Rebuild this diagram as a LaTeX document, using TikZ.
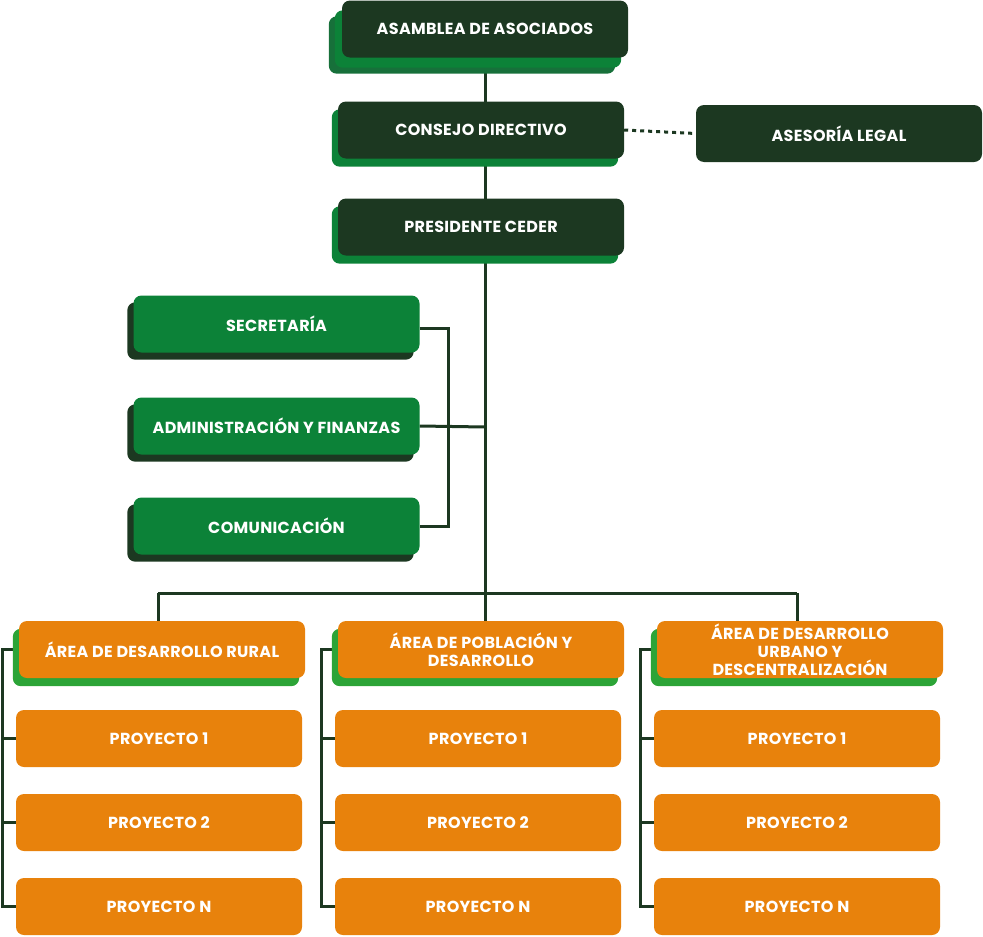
\documentclass[tikz,border=0pt]{standalone}
\usepackage{fontspec}
\setmainfont{Poppins}[LetterSpace=2]
\usetikzlibrary{backgrounds}
\definecolor{dkg}{HTML}{1C3821}
\definecolor{brg}{HTML}{0C8238}
\definecolor{mdg}{HTML}{17703A}
\definecolor{org}{HTML}{E8820C}
\definecolor{lig}{HTML}{2CA437}
\tikzset{
  box/.style={rounded corners=8pt, minimum width=286pt, minimum height=57pt, inner sep=2pt,
    text=white, font=\fontsize{16}{18}\selectfont\bfseries, align=center},
  dbox/.style={box, fill=dkg},
  gbox/.style={box, fill=brg},
  obox/.style={box, fill=org},
  conn/.style={draw=dkg, line width=3pt},
}
\newcommand{\shad}[4]{\fill[#2, rounded corners=8pt] ([shift={(#3,#4)}]#1.north west) rectangle ([shift={(#3,#4)}]#1.south east);}
\begin{document}
\begin{tikzpicture}[x=1pt,y=-1pt]
\useasboundingbox (0,0) rectangle (983,937);
% main nodes
\node[dbox] (asm) at (485,29) {ASAMBLEA DE ASOCIADOS};
\node[dbox] (con) at (481,130) {CONSEJO DIRECTIVO};
\node[dbox] (pre) at (481,227) {PRESIDENTE CEDER};
\node[dbox] (leg) at (839,133.5) {ASESORÍA LEGAL};
\node[gbox] (sec) at (276.5,324) {SECRETARÍA};
\node[gbox] (adm) at (276.5,426) {ADMINISTRACIÓN Y FINANZAS};
\node[gbox] (com) at (276.5,526) {COMUNICACIÓN};
\node[obox] (ar1) at (162,649.5) {ÁREA DE DESARROLLO RURAL};
\node[obox] (ar2) at (481,649.5) {ÁREA DE POBLACIÓN Y\\DESARROLLO};
\node[obox, inner sep=0pt] (ar3) at (800,649.5) {ÁREA DE DESARROLLO\\URBANO Y\\DESCENTRALIZACIÓN};
\foreach \c/\x in {1/159,2/478,3/797}{
  \node[obox] (p\c a) at (\x,738.5) {PROYECTO 1};
  \node[obox] (p\c b) at (\x,822.5) {PROYECTO 2};
  \node[obox] (p\c n) at (\x,906.5) {PROYECTO N};
}
\coordinate (trk) at (485,427);
\coordinate (bar) at (485,593);
\coordinate (bl) at (158,593);
\coordinate (br) at (797,593);
\coordinate (sb) at (448,328);
\begin{pgfonlayer}{background}
% connectors
\draw[conn] (asm.south) -- (bar);
\draw[conn] (bl) -- (br);
\draw[conn] (bl) -- (bl |- ar1.north);
\draw[conn] (br) -- (br |- ar3.north);
\draw[conn] (bar) -- (bar |- ar2.north);
\draw[conn] (sec.east |- sb) -- (sb) |- (com.east);
\draw[conn] (adm.east) -- (trk);
\draw[conn, dash pattern=on 4pt off 4pt] (con.east) -- (leg.west);
\foreach \c in {1,2,3}{
  \draw[conn] (ar\c.west) -- ([xshift=-13pt]p\c a.west |- ar\c.west) |- (p\c n.west);
  \draw[conn] (p\c a.west) -- ++(-13,0);
  \draw[conn] (p\c b.west) -- ++(-13,0);
}
% shadows
\shad{asm}{mdg}{-13}{16}
\shad{asm}{brg}{-7}{10}
\shad{con}{brg}{-6}{8}
\shad{pre}{brg}{-6}{8}
\shad{sec}{dkg}{-6}{7}
\shad{adm}{dkg}{-6}{7}
\shad{com}{dkg}{-6}{7}
\shad{ar1}{lig}{-6}{8}
\shad{ar2}{lig}{-6}{8}
\shad{ar3}{lig}{-6}{8}
\end{pgfonlayer}
\end{tikzpicture}
\end{document}
